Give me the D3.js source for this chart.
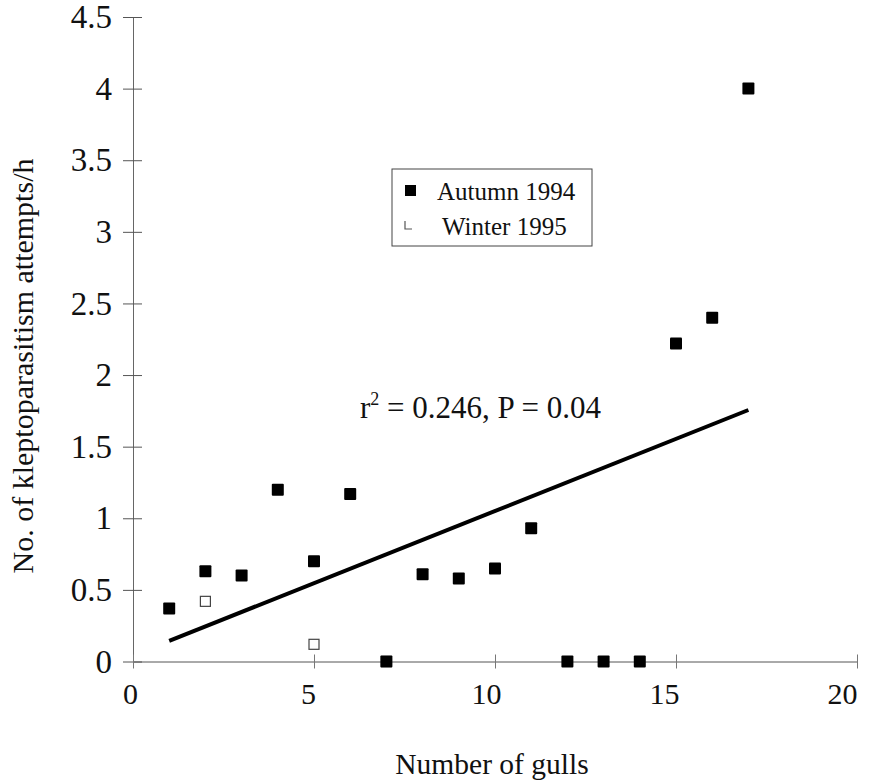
<!DOCTYPE html>
<html>
<head>
<meta charset="utf-8">
<script src="https://cdn.jsdelivr.net/npm/d3@7"></script>
<style>
    body { margin: 0; background: #fff; }
    #chart-area text { font-family: "Liberation Serif", "Times New Roman", serif; fill: #111; }
</style>
</head>
<body>
<div id="chart-area"></div>
<script>
// data
const autumnGulls = [1, 2, 3, 4, 5, 6, 7, 8, 9, 10, 11, 12, 13, 14, 15, 16, 17];
const autumnRates = [0.37, 0.63, 0.60, 1.20, 0.70, 1.17, 0, 0.61, 0.58, 0.65, 0.93, 0, 0, 0, 2.22, 2.40, 4.00];
const winterGulls = [2, 5, 7];
const winterRates = [0.42, 0.12, 0];
const fitGulls = [1, 17];
const fitRates = [0.144, 1.756];
const xTickValues = [0, 5, 10, 15, 20];
const yTickValues = [0, 0.5, 1, 1.5, 2, 2.5, 3, 3.5, 4, 4.5];
const seriesNames = ["Autumn 1994", "Winter 1995"];

class GullScatter {

    constructor(_parentElement) {
        this.parentElement = _parentElement;
        this.initVis();
    }

    initVis() {
        let vis = this;

        vis.width = 875;
        vis.height = 782;

        vis.svg = d3.select("#" + vis.parentElement).append("svg")
            .attr("width", vis.width)
            .attr("height", vis.height);

        // plot box in page pixels
        vis.xScale = d3.scaleLinear().domain([0, 20]).range([133, 857]);
        vis.yScale = d3.scaleLinear().domain([0, 4.5]).range([661.5, 17]);

        vis.wrangleData();
    }

    wrangleData() {
        let vis = this;
        vis.autumn = autumnGulls.map((g, i) => ({ x: g, y: autumnRates[i] }));
        vis.winter = winterGulls.map((g, i) => ({ x: g, y: winterRates[i] }));
        vis.fit = fitGulls.map((g, i) => ({ x: g, y: fitRates[i] }));
        vis.updateVis();
    }

    updateVis() {
        let vis = this;
        const x = vis.xScale, y = vis.yScale;

        // y axis: ticks cross the line
        const yAxis = d3.axisLeft(y).tickValues(yTickValues).tickSizeInner(10).tickSizeOuter(0).tickFormat(d3.format("~g"));
        const yG = vis.svg.append("g")
            .attr("transform", "translate(" + x(0) + ",0)")
            .call(yAxis);
        yG.select(".domain").attr("stroke", "#666");
        yG.selectAll(".tick line").attr("stroke", "#555").attr("x2", 9).attr("x1", -10);
        yG.selectAll(".tick text")
            .attr("x", -21)
            .style("font-size", "33px")
            .attr("fill", "#111");

        // x axis
        const xAxis = d3.axisBottom(x).tickValues(xTickValues).tickSizeInner(7).tickSizeOuter(0);
        const xG = vis.svg.append("g")
            .attr("transform", "translate(0," + y(0) + ")")
            .call(xAxis);
        xG.select(".domain").attr("stroke", "#555");
        xG.selectAll(".tick line").attr("stroke", "#777").attr("y1", -7).attr("y2", 7);
        xG.selectAll(".tick text")
            .attr("y", 21)
            .attr("dx", d => -d * 0.6 - 3)
            .style("font-size", "30px")
            .attr("fill", "#111");

        // regression line
        vis.svg.append("path")
            .datum(vis.fit)
            .attr("fill", "none")
            .attr("stroke", "#000")
            .attr("stroke-width", 4)
            .attr("d", d3.line().x(d => x(d.x)).y(d => y(d.y)));

        // winter points (open squares)
        const ws = 10;
        vis.svg.selectAll(".winter")
            .data(vis.winter)
            .enter()
            .append("rect")
            .attr("class", "winter")
            .attr("x", d => x(d.x) - ws / 2)
            .attr("y", d => y(d.y) - ws / 2)
            .attr("width", ws)
            .attr("height", ws)
            .attr("fill", "#fff")
            .attr("stroke", "#444")
            .attr("stroke-width", 1.2);

        // autumn points (filled squares)
        const as = 12;
        vis.svg.selectAll(".autumn")
            .data(vis.autumn)
            .enter()
            .append("rect")
            .attr("class", "autumn")
            .attr("x", d => x(d.x) - as / 2)
            .attr("y", d => y(d.y) - as / 2)
            .attr("width", as)
            .attr("height", as)
            .attr("rx", 1)
            .attr("fill", "#000");

        // legend
        const legend = vis.svg.append("g").attr("transform", "translate(392,169)");
        legend.append("rect")
            .attr("width", 200)
            .attr("height", 77)
            .attr("fill", "#fff")
            .attr("stroke", "#444")
            .attr("stroke-width", 1);
        legend.append("rect")
            .attr("x", 13).attr("y", 16)
            .attr("width", 11).attr("height", 11)
            .attr("fill", "#000");
        legend.append("path")
            .attr("d", "M13,52 V60 H20")
            .attr("fill", "none")
            .attr("stroke", "#555")
            .attr("stroke-width", 1.2);
        legend.selectAll(".legend-label")
            .data(seriesNames)
            .enter()
            .append("text")
            .attr("class", "legend-label")
            .attr("x", (d, i) => i === 0 ? 45 : 50)
            .attr("y", (d, i) => 31 + i * 35)
            .style("font-size", "25px")
            .text(d => d);

        // fit statistics
        const stat = vis.svg.append("text")
            .attr("x", 360)
            .attr("y", 418)
            .style("font-size", "31px");
        stat.append("tspan").text("r");
        stat.append("tspan").attr("dy", -13).style("font-size", "18px").text("2");
        stat.append("tspan").attr("dy", 13).text(" = 0.246, P = 0.04");

        // axis titles
        vis.svg.append("text")
            .attr("x", 492)
            .attr("y", 774)
            .attr("text-anchor", "middle")
            .style("font-size", "29.5px")
            .text("Number of gulls");

        vis.svg.append("text")
            .attr("transform", "translate(33,366) rotate(-90)")
            .attr("text-anchor", "middle")
            .style("font-size", "30px")
            .text("No. of kleptoparasitism attempts/h");
    }
}

new GullScatter("chart-area");
</script>
</body>
</html>
